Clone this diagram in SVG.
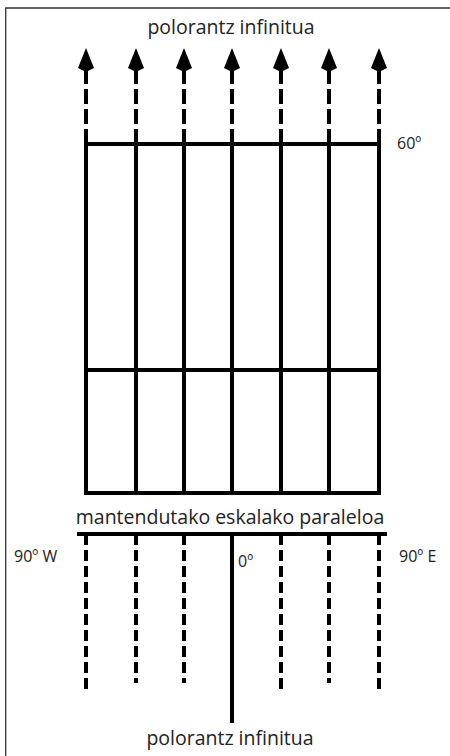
<svg xmlns="http://www.w3.org/2000/svg" width="450" height="756" viewBox="0 0 450 756">
<style>
.g{stroke:#000;stroke-width:4;fill:none}
.d{stroke:#000;stroke-width:4;fill:none;stroke-dasharray:11 5}
.u{stroke:#000;stroke-width:4;fill:none;stroke-dasharray:15 5}
.t{font-family:"Open Sans","Liberation Sans",sans-serif;fill:#222;font-size:19.5px}
.s{font-size:16px}
.f{stroke:#333;stroke-width:1.3;fill:none}
</style>
<defs>
<marker id="ah" viewBox="0 0 24 16" refX="2" refY="8" markerWidth="24" markerHeight="16" markerUnits="userSpaceOnUse" orient="auto">
<path d="M0,8 L4,0 L24,8 L4,16 Z" fill="#000"/>
</marker>
</defs>
<rect width="450" height="756" fill="#fff"/>
<g id="frame"><path class="f" d="M5.7,756 V8 H450"/></g>
<g id="connectors">
<g id="arrows-top">
<line class="u" x1="86" y1="144" x2="86" y2="70" marker-end="url(#ah)"/>
<line class="u" x1="136" y1="144" x2="136" y2="70" marker-end="url(#ah)"/>
<line class="u" x1="184" y1="144" x2="184" y2="70" marker-end="url(#ah)"/>
<line class="u" x1="232" y1="144" x2="232" y2="70" marker-end="url(#ah)"/>
<line class="u" x1="281" y1="144" x2="281" y2="70" marker-end="url(#ah)"/>
<line class="u" x1="329" y1="144" x2="329" y2="70" marker-end="url(#ah)"/>
<line class="u" x1="379" y1="144" x2="379" y2="70" marker-end="url(#ah)"/>
</g>
<g id="grid">
<path class="g" d="M86,144 V493 M136,144 V493 M184,144 V493 M232,144 V493 M281,144 V493 M329,144 V493 M379,144 V493"/>
<path class="g" d="M84,144 H381 M84,370 H381 M84,493 H381"/>
</g>
<g id="lower">
<path class="g" d="M77,534 H387"/>
<path class="g" d="M232,534 V723"/>
<path class="d" d="M86,534 V691 M136,534 V683 M184,534 V683 M281,534 V691 M329,534 V683 M379,534 V691"/>
</g>
</g>
<g id="labels">
<text class="t" x="231" y="34" text-anchor="middle">polorantz infinitua</text>
<text class="t s" x="397" y="149">60º</text>
<text class="t" x="230" y="524" text-anchor="middle">mantendutako eskalako paraleloa</text>
<text class="t s" x="14" y="562">90º W</text>
<text class="t s" x="238" y="567">0º</text>
<text class="t s" x="399" y="562">90º E</text>
<text class="t" x="230" y="745" text-anchor="middle">polorantz infinitua</text>
</g>
</svg>
